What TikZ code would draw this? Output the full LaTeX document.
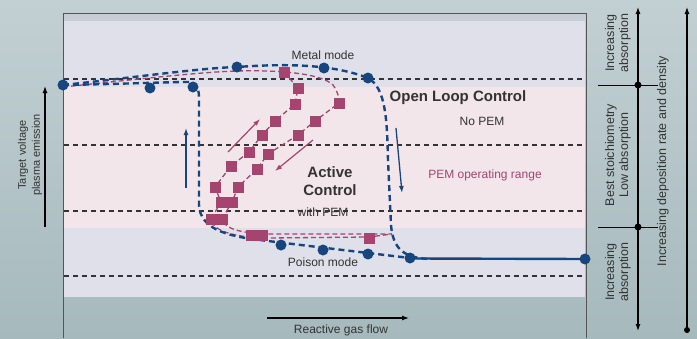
\documentclass[tikz,border=0pt]{standalone}
\usepackage{fontspec}
\setmainfont{Liberation Sans}
\usetikzlibrary{arrows.meta}
\definecolor{bluec}{HTML}{17457E}
\definecolor{pinkc}{HTML}{A5446E}
\definecolor{lav}{HTML}{DFE0EA}
\definecolor{pinkband}{HTML}{F2E6EB}
\definecolor{topgrey}{HTML}{C6CED4}
\definecolor{bgtop}{HTML}{C2D0D3}
\definecolor{bgbot}{HTML}{A6B9BD}
\definecolor{framec}{HTML}{555555}
\definecolor{txt}{HTML}{333333}
\begin{document}
\begin{tikzpicture}[x=1pt,y=-1pt,
  bluecurve/.style={draw=bluec, line width=2.4pt, dash pattern=on 6pt off 4pt},
  pinkcurve/.style={draw=pinkc, line width=1.3pt, dash pattern=on 5pt off 3pt},
  gridline/.style={draw=black!80, line width=1.1pt, dash pattern=on 5pt off 4pt},
  bdot/.style={circle, fill=bluec, inner sep=0pt, minimum size=11pt},
  kdot/.style={circle, fill=black, inner sep=0pt, minimum size=7pt},
  psq/.style={rectangle, fill=pinkc, inner sep=0pt, minimum size=11pt},
  lbl/.style={text=txt, font=\fontsize{12}{14}\selectfont, align=center, inner sep=0pt},
  rlbl/.style={text=txt, font=\fontsize{12.5}{14}\selectfont, align=center, inner sep=0pt, rotate=90},
  bigl/.style={text=txt, font=\fontsize{15}{18}\selectfont\bfseries, align=center, inner sep=0pt},
  axarrow/.style={draw=black, line width=1.2pt, -{Latex[length=7pt,width=5pt]}},
  barrow/.style={draw=bluec, line width=1.3pt, -{Latex[length=7pt,width=5pt]}},
  parrow/.style={draw=pinkc, line width=1.2pt, -{Latex[length=7pt,width=5pt]}}
]
% background
\useasboundingbox (0,0) rectangle (697,338);
\shade[top color=bgtop, bottom color=bgbot] (0,0) rectangle (697,338);
% panel bands
\fill[topgrey] (63,13) rectangle (586,21);
\fill[lav] (63,21) rectangle (585,87);
\fill[pinkband] (63,87) rectangle (585,228);
\fill[lav] (63,228) rectangle (585,297);
% frame
\draw[framec, line width=1pt] (63,338) -- (63,13) -- (586,13) -- (586,338);
% horizontal dashed lines
\foreach \yy in {79,145,211,276} \draw[gridline] (64,\yy) -- (584,\yy);

% pink curves
\draw[pinkcurve] (63,87) .. controls (130,80) and (200,72) .. (237,71)
  .. controls (270,70) and (320,72) .. (333,85) .. controls (338,92) and (339,97) .. (339,103)
  -- (315,121) -- (298,135) -- (268,154) -- (257,169) -- (238,187) -- (232,202) -- (222,219)
  .. controls (225,229) and (240,233) .. (268,234) -- (392,234);
\draw[pinkcurve] (284,72) -- (298,88) -- (295,104) -- (275,121) -- (262,135) -- (249,152)
  -- (231,166) -- (215,187) -- (221,202) -- (211,219)
  .. controls (212,232) and (240,238) .. (268,238) -- (369,237) -- (392,234);

% blue curves
\draw[bluecurve] (63,85) .. controls (130,78) and (200,68) .. (237,67)
  .. controls (280,64) and (330,63) .. (368,78) .. controls (386,88) and (387,120) .. (388,160)
  -- (391,225) .. controls (393,250) and (405,258) .. (430,259);
\draw[draw=bluec, line width=2.4pt] (415,258.5) -- (585,259);
\draw[bluecurve] (63,85) .. controls (120,84) and (170,82) .. (188,82)
  .. controls (198,82) and (199,90) .. (199,100) -- (199,205)
  .. controls (200,228) and (225,236) .. (260,240) .. controls (300,245) and (360,252) .. (410,258);

% blue dots
\node[bdot] (d1) at (63,85) {};
\node[bdot] (d2) at (150,88) {};
\node[bdot] (d3) at (193,87) {};
\node[bdot] (d4) at (237,67) {};
\node[bdot] (d5) at (324,68) {};
\node[bdot] (d6) at (368,78) {};
\node[bdot] (d7) at (281,245) {};
\node[bdot] (d8) at (323,250) {};
\node[bdot] (d9) at (368,254) {};
\node[bdot] (d10) at (410,258) {};
\node[bdot] (d11) at (585,259) {};

% pink squares
\node[psq] (s1) at (284,72) {};
\node[psq] (s2) at (298,88) {};
\node[psq] (s3) at (295,104) {};
\node[psq] (s4) at (339,103) {};
\node[psq] (s5) at (275,121) {};
\node[psq] (s6) at (315,121) {};
\node[psq] (s7) at (262,135) {};
\node[psq] (s8) at (298,135) {};
\node[psq] (s9) at (249,152) {};
\node[psq] (s10) at (268,154) {};
\node[psq] (s11) at (231,166) {};
\node[psq] (s12) at (257,169) {};
\node[psq] (s13) at (215,187) {};
\node[psq] (s14) at (238,187) {};
\node[psq] (s15) at (221,202) {};
\node[psq] (s16) at (232,202) {};
\node[psq] (s17) at (211,219) {};
\node[psq] (s18) at (222,219) {};
\node[psq] (s19) at (251,235) {};
\node[psq] (s20) at (262,235) {};
\node[psq] (s21) at (369,238) {};

% small arrows
\coordinate (ba1) at (186,188); \coordinate (ba2) at (186,128);
\draw[barrow] (ba1) -- (ba2);
\coordinate (ba3) at (396,128); \coordinate (ba4) at (402,193);
\draw[barrow] (ba3) -- (ba4);
\coordinate (pa1) at (228,152); \coordinate (pa2) at (260,119);
\draw[parrow] (pa1) -- (pa2);
\coordinate (pa3) at (313,140); \coordinate (pa4) at (275,171);
\draw[parrow] (pa3) -- (pa4);

% labels inside
\node[lbl] (metal) at (323,55) {Metal mode};
\node[bigl] (olc) at (458,98) {Open Loop Control};
\node[lbl] (nopem) at (482,121) {No PEM};
\node[lbl, text=pinkc] (pemr) at (485,175) {PEM operating range};
\node[bigl] (ac) at (330,181) {Active\\Control};
\node[lbl] (wpem) at (323,212) {with PEM};
\node[lbl] (poison) at (323,262) {Poison mode};

% bottom axis
\coordinate (gx1) at (267,318); \coordinate (gx2) at (409,318);
\draw[axarrow] (gx1) -- (gx2);
\node[lbl] (gas) at (341,330) {Reactive gas flow};

% left axis
\coordinate (ly1) at (45,227); \coordinate (ly2) at (45,86);
\draw[axarrow] (ly1) -- (ly2);
\node[text=txt, font=\fontsize{11}{14}\selectfont, align=center, inner sep=0pt, rotate=90] (tv) at (30,155) {Target voltage\\plasma emission};

% right axes
\node[kdot] (k1) at (638,85) {};
\node[kdot] (k2) at (638,227) {};
\coordinate (r1) at (638,331); \coordinate (r2) at (638,7);
\draw[draw=black, line width=1.2pt, {Latex[length=7pt,width=5pt]}-{Latex[length=7pt,width=5pt]}] (r1) -- (r2);
\draw[black, line width=0.9pt] (598,85) -- (658,85);
\draw[black, line width=0.9pt] (598,227) -- (658,227);
\node[kdot, minimum size=6pt] (k3) at (687,330) {};
\coordinate (r3) at (687,7);
\draw[axarrow] (k3.center) -- (r3);
\node[rlbl] (ia1) at (618,43) {Increasing\\absorption};
\node[rlbl] (bs) at (618,155) {Best stoichiometry\\Low absorption};
\node[rlbl] (ia2) at (618,272) {Increasing\\absorption};
\node[rlbl] (idr) at (663,161) {Increasing deposition rate and density};
\end{tikzpicture}
\end{document}
